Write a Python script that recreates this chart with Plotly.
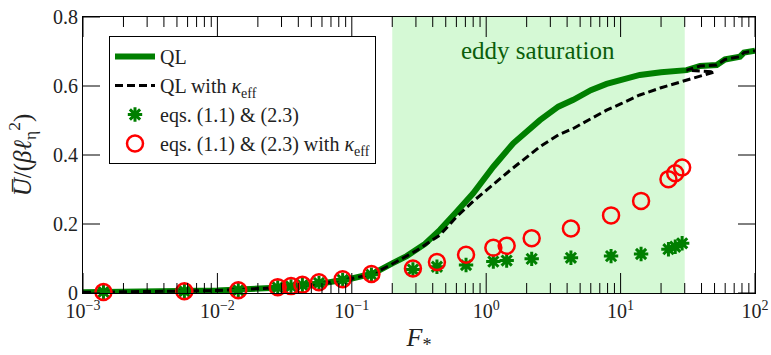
import numpy as np
import plotly.graph_objects as go

# QL solid curve
ql_F = [0.001, 0.003, 0.01, 0.03, 0.06, 0.1, 0.145, 0.2, 0.256, 0.35, 0.453, 0.6, 0.8,
        1.13, 1.59, 2.51, 3.44, 4.45, 6.0, 7.87, 10.0, 13.9, 20.0, 31.0, 39.0, 51.9,
        59.8, 77.3, 82.8, 100.0]
ql_U = [0.002, 0.004, 0.007, 0.016, 0.028, 0.042, 0.057, 0.086, 0.107, 0.142, 0.183,
        0.235, 0.289, 0.366, 0.434, 0.501, 0.540, 0.560, 0.588, 0.606, 0.618, 0.632,
        0.640, 0.646, 0.658, 0.661, 0.677, 0.685, 0.697, 0.702]

# QL with kappa_eff (dashed)
qlk_F = [0.001, 0.003, 0.01, 0.03, 0.06, 0.1, 0.145, 0.2, 0.3, 0.453, 0.603, 0.8, 1.07,
         1.5, 1.89, 2.51, 3.44, 4.45, 6.0, 7.87, 10.0, 13.9, 20.0, 27.7, 38.0, 50.0,
         31.0, 39.0, 51.9, 59.8, 77.3, 82.8, 100.0]
qlk_U = [0.002, 0.004, 0.007, 0.016, 0.028, 0.042, 0.056, 0.084, 0.122, 0.168, 0.221,
         0.266, 0.308, 0.355, 0.386, 0.424, 0.458, 0.477, 0.505, 0.530, 0.548, 0.574,
         0.595, 0.612, 0.628, 0.641, 0.646, 0.658, 0.661, 0.677, 0.685, 0.697, 0.702]

# simulation markers
sim_F = [0.00142, 0.00568, 0.0143, 0.0281, 0.0353, 0.0429, 0.057, 0.0855, 0.14, 0.285,
         0.43, 0.708, 1.13, 1.42, 2.18, 4.27, 8.49, 14.2, 22.7, 25.5, 28.7]
star_U = [0.003, 0.005, 0.008, 0.016, 0.019, 0.023, 0.029, 0.038, 0.053, 0.068, 0.076,
          0.081, 0.091, 0.094, 0.099, 0.102, 0.107, 0.113, 0.127, 0.134, 0.144]
circ_U = [0.003, 0.005, 0.008, 0.017, 0.020, 0.024, 0.031, 0.040, 0.055, 0.071, 0.090,
          0.111, 0.131, 0.137, 0.159, 0.187, 0.225, 0.267, 0.330, 0.347, 0.364]

sat_range = [0.2, 30.0]

x_tickvals = [0.001, 0.01, 0.1, 1, 10, 100]
x_ticktext = ["10<sup>−3</sup>", "10<sup>−2</sup>", "10<sup>−1</sup>",
              "10<sup>0</sup>", "10<sup>1</sup>", "10<sup>2</sup>"]
y_tickvals = [0, 0.2, 0.4, 0.6, 0.8]
y_ticktext = ["0", "0.2", "0.4", "0.6", "0.8"]

GREEN = "#007f00"
FONT = "Liberation Serif"
TXT = "#222222"

W, H = 771, 355
ML, MR, MT, MB = 83, 16, 17, 62
PW, PH = W - ML - MR, H - MT - MB
X_RANGE = [-3, 2]          # log10 decades
Y_RANGE = [0, 0.8]

fig = go.Figure()
fig.add_trace(go.Scatter(x=ql_F, y=ql_U, mode="lines", name="QL",
                         line=dict(color=GREEN, width=6), cliponaxis=False))
fig.add_trace(go.Scatter(x=qlk_F, y=qlk_U, mode="lines",
                         name="QL with <i>κ</i><sub>eff</sub>",
                         line=dict(color="black", width=3, dash="8px,4px"), cliponaxis=False))
fig.add_trace(go.Scatter(x=sim_F, y=star_U, mode="markers", name="eqs. (1.1) &amp; (2.3)",
                         marker=dict(symbol="asterisk-open", size=12, color=GREEN,
                                     line=dict(color=GREEN, width=3)), cliponaxis=False))
fig.add_trace(go.Scatter(x=sim_F, y=circ_U, mode="markers",
                         name="eqs. (1.1) &amp; (2.3) with <i>κ</i><sub>eff</sub>",
                         marker=dict(symbol="circle-open", size=16, color="red",
                                     line=dict(color="red", width=2.5)), cliponaxis=False))

# inside, mirrored tick marks drawn as a line trace through the axes' scales
dy_per_px = (Y_RANGE[1] - Y_RANGE[0]) / PH
ddec_per_px = (X_RANGE[1] - X_RANGE[0]) / PW
minor_x = [m * 10.0 ** e for e in range(-3, 2) for m in range(2, 10)]
tx, ty = [], []
for vals, L in ((x_tickvals, 20), (minor_x, 10)):
    for v in vals:
        tx += [v, v, None, v, v, None]
        ty += [Y_RANGE[0], Y_RANGE[0] + L * dy_per_px, None,
               Y_RANGE[1], Y_RANGE[1] - L * dy_per_px, None]
xl, xr = 10.0 ** X_RANGE[0], 10.0 ** X_RANGE[1]
fy = 10.0 ** (17 * ddec_per_px)
for v in y_tickvals:
    tx += [xl, xl * fy, None, xr, xr / fy, None]
    ty += [v, v, None, v, v, None]
fig.add_trace(go.Scatter(x=tx, y=ty, mode="lines", line=dict(color="black", width=1),
                         showlegend=False, hoverinfo="skip", connectgaps=False))

fig.add_shape(type="rect", xref="x", yref="paper", x0=sat_range[0], x1=sat_range[1],
              y0=0, y1=1, fillcolor="#d5f9d5", opacity=1, line=dict(width=0), layer="below")

fig.add_annotation(x=(np.log10(sat_range[0]) + np.log10(sat_range[1])) / 2, y=0.702,
                   xref="x", yref="y", text="eddy saturation", showarrow=False,
                   font=dict(family=FONT, size=25, color="#0b5e0b"))

fig.update_xaxes(type="log", range=X_RANGE, showgrid=False, zeroline=False, automargin=False,
                 showline=True, linecolor="black", linewidth=1, mirror=True, ticks="",
                 tickmode="array", tickvals=x_tickvals, ticktext=x_ticktext,
                 tickfont=dict(family=FONT, size=20, color=TXT),
                 title=dict(text="<i>F</i><sub>*</sub>", font=dict(family=FONT, size=26, color=TXT),
                            standoff=8))
fig.update_yaxes(range=Y_RANGE, showgrid=False, zeroline=False, automargin=False,
                 showline=True, linecolor="black", linewidth=1, mirror=True, ticks="",
                 tickmode="array", tickvals=y_tickvals, ticktext=y_ticktext,
                 tickfont=dict(family=FONT, size=20, color=TXT),
                 title=dict(text="<i>U̅</i>/(<i>βℓ</i><sub>η</sub><sup>2</sup>)",
                            font=dict(family=FONT, size=25, color=TXT), standoff=14))

fig.update_layout(width=W, height=H, margin=dict(l=ML, r=MR, t=MT, b=MB),
                  plot_bgcolor="white", paper_bgcolor="white",
                  font=dict(family=FONT, color=TXT),
                  legend=dict(x=26 / PW, y=1 - 19 / PH, xanchor="left", yanchor="top",
                              bgcolor="white", bordercolor="black", borderwidth=1,
                              font=dict(family=FONT, size=20, color=TXT),
                              tracegroupgap=0, itemwidth=40))

fig.write_html("out.html")
